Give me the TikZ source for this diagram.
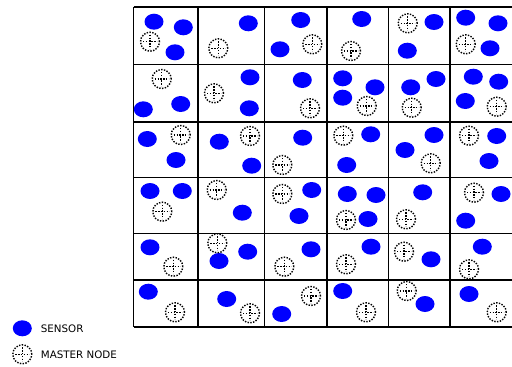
\documentclass[tikz,border=0pt]{standalone}
\usepackage{fontspec}
\setmainfont{DejaVu Sans}
\usepackage{tikz}
\usetikzlibrary{shapes.geometric}
\usetikzlibrary{positioning}
\tikzset{
sensor/.style={ellipse, fill=blue, inner sep=0pt, minimum width=19pt, minimum height=16pt},
dot_line/.style={line width=1.4pt, dash pattern=on 1.4pt off 1.4pt},
master_node/.style={circle, draw, dot_line, inner sep=0pt, minimum size=19pt,
  path picture={\draw[dot_line] ([yshift=7pt]path picture bounding box.center) -- ([yshift=-7pt]path picture bounding box.center);
                \draw[dot_line] ([xshift=-7pt]path picture bounding box.center) -- ([xshift=7pt]path picture bounding box.center);}},
grid_line/.style={line width=1.6pt, color=black},
legend_text/.style={anchor=west, inner sep=0pt, font=\fontsize{10.3}{12}\selectfont}
}

\begin{document}
\begin{tikzpicture}[x=1pt, y=-1pt]
    \useasboundingbox (0,0) rectangle (512,367);
    % field grid
    \foreach \gx in {133.5,198,264.5,327,388.5,450}
        \draw[grid_line] (\gx,7) -- (\gx,327);
    \foreach \gy in {7,64.5,121.7,177.5,233.5,280,327}
        \draw[grid_line] (133.5,\gy) -- (512,\gy);
    % sensors
    \foreach \sx/\sy [count=\i] in {
        154/21.7, 183.3/27.3, 175/52.3, 248.3/23.3, 300.7/20, 280/49.3,
        361.7/19, 434/22, 407.3/50.7, 465.7/17.7, 498/23.3, 490/48.3,
        143.3/109.3, 180.7/104, 250/77.3, 249.3/108.3, 302.3/80,
        342.7/78.3, 375/87.3, 342.7/97.7, 436/79, 410.7/87.3,
        473.3/76.7, 498.7/81.7, 465.3/101,
        147.3/139, 176/160, 219.3/141.7, 251.7/165.7, 302.7/137.7,
        370.7/134.3, 346.7/165, 434/135, 405/150, 496.7/136, 489/161,
        150/191, 182.3/191, 242.3/212.7, 311.7/190, 299/216,
        347.3/194, 376/195, 368/219, 422.7/192.3, 501/194, 465.7/220.7,
        150/247.3, 219/261, 247.7/251.7, 311/249.3,
        371/246.7, 431/259.3, 482.3/246.7,
        148.3/291.7, 226.7/299, 281.7/314,
        342.7/291, 425/304, 469/294}
        \node[sensor] (sensor_\i) at (\sx,\sy) {};
    % master nodes
    \foreach \mx/\my [count=\i] in {
        150/41.7, 218.3/48.3, 312.3/44.3, 351/51, 407.7/23.3, 465.7/44.3,
        161.7/79, 214/93.3, 310/108.3, 366.7/106, 411.7/107.7, 496.7/106.7,
        180.7/135, 250/136, 282.3/165, 343.3/135.7, 430.7/163.3, 469/135.7,
        162.3/211.7, 216.7/190, 282.3/194, 346/220, 406/219.3, 474/192.7,
        173.3/266.7, 217.3/243.3, 284.3/266.7, 346/264.3, 404/251.7, 469/269.3,
        175/312.3, 250/313.3, 311/296, 366/312.3, 406.7/291, 496.7/312.3}
        \node[master_node] (master_\i) at (\mx,\my) {};
    % legend
    \node[sensor] (legend_sensor) at (22.3,328.3) {};
    \node[legend_text] (legend_sensor_text) at (40.7,328.3) {SENSOR};
    \node[master_node] (legend_master) at (22.3,354.3) {};
    \node[legend_text] (legend_master_text) at (40.7,354.3) {MASTER NODE};
\end{tikzpicture}
\end{document}
